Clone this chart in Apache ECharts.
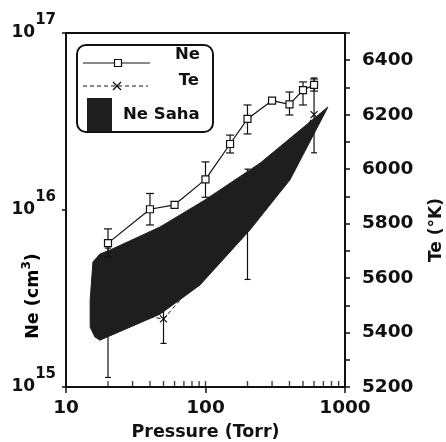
<!DOCTYPE html>
<html><head><meta charset="utf-8">
<script src="https://cdn.jsdelivr.net/npm/echarts@6/dist/echarts.min.js"></script>
<style>html,body{margin:0;padding:0;background:#fff}#c{width:446px;height:442px}</style>
</head><body><div id="c"></div>
<script>
// ---- data ----
const pressureNe = [20, 40, 60, 100, 150, 200, 300, 400, 500, 600];
const neValues   = [6.5e15, 1.01e16, 1.07e16, 1.49e16, 2.36e16, 3.27e16, 4.15e16, 3.95e16, 4.76e16, 5.09e16];
const neErrLow   = [5.43e15, 8.23e15, null, 1.18e16, 2.10e16, 2.69e16, null, 3.44e16, 3.92e16, 4.70e16];
const neErrHigh  = [7.82e15, 1.24e16, null, 1.87e16, 2.65e16, 3.92e16, null, 4.64e16, 5.29e16, 5.50e16];

const pressureTe = [20, 50, 200, 600];
const teValues   = [5480, 5450, 5800, 6200];
const teErrLow   = [5235, 5360, 5595, 6060];
const teErrHigh  = [5710, 5540, 6000, 6335];

// Ne Saha band boundary, [pressure, Ne]
const sahaUpper = [[15.6, 5.08e15], [17.5, 5.64e15], [20.7, 5.94e15], [47.2, 8.02e15], [99.2, 1.14e16], [246, 1.84e16], [755, 3.82e16]];
const sahaLower = [[14.9, 3.10e15], [14.9, 2.18e15], [16.1, 1.92e15], [17.5, 1.84e15], [47.2, 2.58e15], [91.3, 3.77e15], [208, 7.71e15], [403, 1.48e16]];

const xMinorTicks = [20, 30, 40, 50, 60, 70, 80, 90, 100, 200, 300, 400, 500, 600, 700, 800, 900];

const X_MIN = 10, X_MAX = 1000, NE_MIN = 1e15, NE_MAX = 1e17;
const FONT = '"DejaVu Sans", sans-serif';
const INK = '#111';

const neLine = pressureNe.map((p, i) => [p, neValues[i]]);
const neErr = pressureNe.map((p, i) => [p, neErrLow[i], neErrHigh[i]]).filter(r => r[1] != null);
const teLine = pressureTe.map((p, i) => [p, teValues[i]]);
const teErr = pressureTe.map((p, i) => [p, teErrLow[i], teErrHigh[i]]);
const bandPoly = sahaUpper.concat(sahaLower.slice().reverse());
const minorTickData = xMinorTicks.map(v => [v, NE_MIN]);

function errRender(cap) {
  return function (params, api) {
    const x = api.value(0);
    const a = api.coord([x, api.value(1)]);
    const b = api.coord([x, api.value(2)]);
    const st = { stroke: INK, lineWidth: 1.2 };
    return { type: 'group', children: [
      { type: 'line', shape: { x1: a[0], y1: a[1], x2: b[0], y2: b[1] }, style: st },
      { type: 'line', shape: { x1: a[0] - cap, y1: a[1], x2: a[0] + cap, y2: a[1] }, style: st },
      { type: 'line', shape: { x1: b[0] - cap, y1: b[1], x2: b[0] + cap, y2: b[1] }, style: st }
    ]};
  };
}

const xSym = 'path://M0,0L10,10M10,0L0,10';

const chart = echarts.init(document.getElementById('c'), null, { renderer: 'canvas' });
chart.setOption({
  animation: false,
  backgroundColor: '#fff',
  grid: { left: 66, right: 101, top: 33, bottom: 55, show: true, borderColor: INK, borderWidth: 2,
          backgroundColor: 'transparent', containLabel: false, outerBoundsMode: 'none' },
  xAxis: [
    { type: 'log', logBase: 10, min: X_MIN, max: X_MAX, position: 'bottom',
      axisLine: { lineStyle: { color: INK, width: 2 } },
      axisTick: { show: true, inside: false, length: 6, lineStyle: { color: INK, width: 1.5 } },
      axisLabel: { margin: 12, fontSize: 18.5, fontWeight: 'bold', fontFamily: FONT, color: INK, formatter: v => String(v) },
      splitLine: { show: false }, minorTick: { show: false },
      name: 'Pressure (Torr)', nameLocation: 'middle', nameGap: 36,
      nameTextStyle: { fontSize: 17.5, fontWeight: 'bold', fontFamily: FONT, color: INK }
    }
  ],
  yAxis: [
    { type: 'log', logBase: 10, min: NE_MIN, max: NE_MAX, position: 'left',
      axisLine: { lineStyle: { color: INK, width: 2 } },
      axisTick: { show: true, inside: false, length: 4, lineStyle: { color: INK, width: 1.5 } },
      axisLabel: {
        margin: 10, color: INK, fontFamily: FONT,
        formatter: v => '{b|10}{s|' + Math.round(Math.log10(v)) + '}',
        rich: {
          b: { fontSize: 17, fontWeight: 'bold', fontFamily: FONT, color: INK, verticalAlign: 'middle' },
          s: { fontSize: 15, fontWeight: 'bold', fontFamily: FONT, color: INK, verticalAlign: 'middle', padding: [0, 0, 26, 0] }
        }
      },
      splitLine: { show: false }
    },
    { type: 'value', min: 5200, max: 6500, interval: 100, position: 'right',
      axisLine: { show: true, lineStyle: { color: INK, width: 2 } },
      axisTick: { show: true, inside: false, length: 5, lineStyle: { color: INK, width: 1.5 } },
      axisLabel: { margin: 17, fontSize: 18.5, fontWeight: 'bold', fontFamily: FONT, color: INK,
        formatter: v => (v % 200 === 0 ? String(v) : '') },
      splitLine: { show: false }
    }
  ],
  series: [
    { name: 'Te', type: 'line', xAxisIndex: 0, yAxisIndex: 1, data: teLine, z: 2,
      lineStyle: { color: INK, width: 1, type: [4, 3] },
      symbol: xSym, symbolSize: 7,
      itemStyle: { color: 'transparent', borderColor: INK, borderWidth: 1.2 } },
    { name: 'Te err', type: 'custom', xAxisIndex: 0, yAxisIndex: 1, data: teErr, z: 2,
      encode: { x: 0, y: [1, 2] }, renderItem: errRender(3) },
    { name: 'Ne Saha', type: 'custom', xAxisIndex: 0, yAxisIndex: 0, data: bandPoly, z: 3,
      encode: { x: 0, y: 1 },
      renderItem: function (params, api) {
        if (params.dataIndex !== 0) return null;
        const pts = bandPoly.map(p => api.coord(p));
        return { type: 'polygon', shape: { points: pts }, style: { fill: '#1e1e1e', stroke: '#1e1e1e', lineWidth: 1 } };
      } },
    { name: 'Ne err', type: 'custom', xAxisIndex: 0, yAxisIndex: 0, data: neErr, z: 4,
      encode: { x: 0, y: [1, 2] }, renderItem: errRender(4) },
    { name: 'Ne', type: 'line', xAxisIndex: 0, yAxisIndex: 0, data: neLine, z: 5,
      lineStyle: { color: INK, width: 1.2 },
      symbol: 'rect', symbolSize: 7,
      itemStyle: { color: '#fff', borderColor: INK, borderWidth: 1.2 } },
    { name: 'minor ticks', type: 'scatter', xAxisIndex: 0, yAxisIndex: 0, silent: true, z: 6, clip: false,
      data: minorTickData, symbol: 'rect', symbolSize: [1.4, 6], symbolOffset: [0, -3],
      itemStyle: { color: INK }, emphasis: { disabled: true } }
  ],
  graphic: [
    { type: 'rect', z: 100, shape: { x: 77, y: 45, width: 136, height: 87, r: 9 },
      style: { fill: '#fff', stroke: INK, lineWidth: 2 } },
    { type: 'line', z: 101, shape: { x1: 83, y1: 63, x2: 150, y2: 63 }, style: { stroke: INK, lineWidth: 1.2 } },
    { type: 'rect', z: 102, shape: { x: 114.5, y: 59.5, width: 7, height: 7 }, style: { fill: '#fff', stroke: INK, lineWidth: 1.2 } },
    { type: 'text', z: 101, x: 200, y: 55, style: { text: 'Ne', font: 'bold 16.5px ' + FONT, fill: INK, align: 'right', verticalAlign: 'middle' } },
    { type: 'line', z: 101, shape: { x1: 83, y1: 86, x2: 148, y2: 86 }, style: { stroke: INK, lineWidth: 1, lineDash: [4, 3] } },
    { type: 'line', z: 101, shape: { x1: 113, y1: 82, x2: 121, y2: 90 }, style: { stroke: INK, lineWidth: 1.3 } },
    { type: 'line', z: 101, shape: { x1: 121, y1: 82, x2: 113, y2: 90 }, style: { stroke: INK, lineWidth: 1.3 } },
    { type: 'text', z: 101, x: 199, y: 81, style: { text: 'Te', font: 'bold 16.5px ' + FONT, fill: INK, align: 'right', verticalAlign: 'middle' } },
    { type: 'rect', z: 101, shape: { x: 87, y: 98, width: 25, height: 33 }, style: { fill: '#1e1e1e' } },
    { type: 'text', z: 101, x: 123, y: 115, style: { text: 'Ne Saha', font: 'bold 16.5px ' + FONT, fill: INK, align: 'left', verticalAlign: 'middle' } },
    { type: 'text', z: 101, x: 33, y: 296, rotation: Math.PI / 2,
      style: { text: '{a|Ne (cm}{s|3}{a|)}', align: 'center', verticalAlign: 'middle',
        rich: { a: { fontSize: 17.5, fontWeight: 'bold', fontFamily: FONT, color: INK },
                s: { fontSize: 12, fontWeight: 'bold', fontFamily: FONT, color: INK, padding: [0, 0, 12, 0] } } } },
    { type: 'text', z: 101, x: 437, y: 230, rotation: Math.PI / 2,
      style: { text: 'Te (°K)', font: 'bold 17px ' + FONT, fill: INK, align: 'center', verticalAlign: 'middle' } }
  ]
});
</script>
</body></html>
